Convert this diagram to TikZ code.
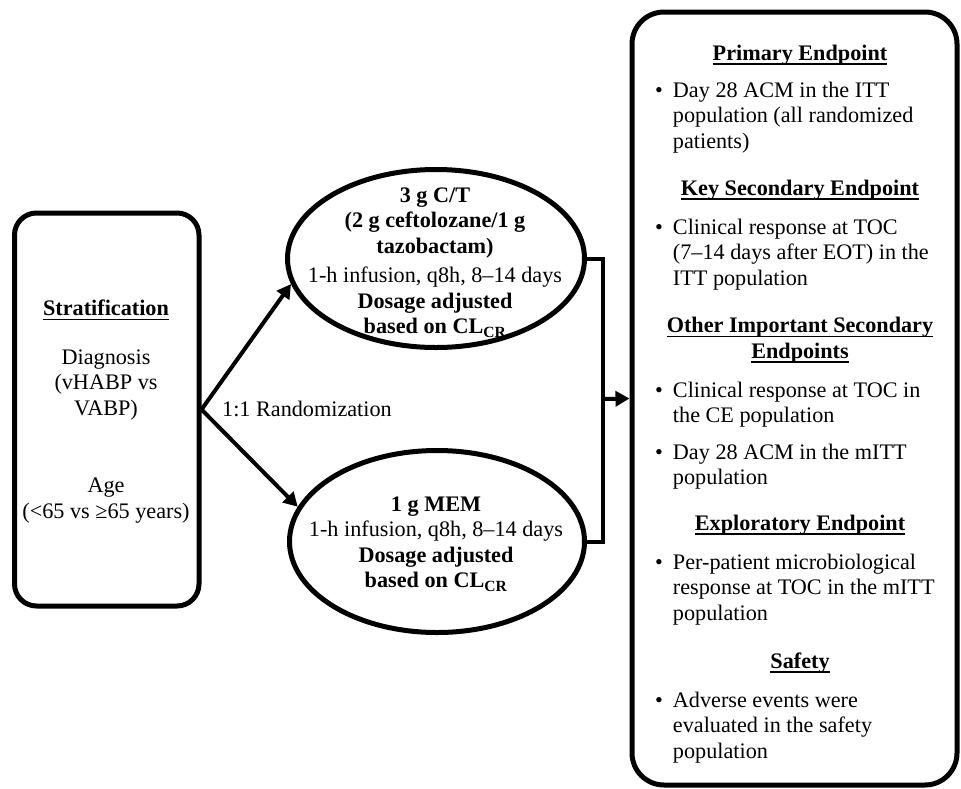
\documentclass[tikz,border=0pt]{standalone}
\usepackage{fontspec}
\setmainfont{Liberation Serif}
\usetikzlibrary{arrows.meta,shapes.geometric}
\newcommand{\hd}[1]{\leavevmode\setbox0\hbox{#1}\rlap{\vrule height -3pt depth 4.6pt width \wd0}\box0}
\newcommand{\bt}[1]{\textbullet\hspace{10pt}\begin{tabular}[t]{@{}l@{}}#1\end{tabular}}
\begin{document}
\begin{tikzpicture}[x=1pt,y=-1pt,
  every node/.style={font=\fontsize{22.2}{25.5}\selectfont, inner sep=0pt},
  box/.style={draw, line width=5pt, rounded corners=22pt},
  oval/.style={draw, ellipse, line width=5pt},
  conn/.style={line width=4pt},
  arr/.style={conn, -{Triangle[length=14pt,width=15pt]}},
  head/.style={font=\fontsize{22.2}{25.5}\selectfont\bfseries, align=center},
  txt/.style={align=center},
  bul/.style={anchor=base west}
]
\useasboundingbox (0,0) rectangle (961,788);

% boxes
\node[box, minimum width=184.5pt, minimum height=393pt] (lbox) at (106.75,409.5) {};
\node[box, rounded corners=32pt, minimum width=325pt, minimum height=773pt] (rbox) at (794.5,398.5) {};
\node[oval, minimum width=297pt, minimum height=178pt] (top) at (436,258.5) {};
\node[oval, minimum width=295pt, minimum height=182pt] (bot) at (437,541.5) {};

% left box text
\node[head] (strat) at (106,310) {\hd{Stratification}};
\node[txt] (diag) at (106,385) {Diagnosis\\(vHABP vs\\VABP)};
\node[txt] (age) at (106,500.5) {Age\\(<65 vs ≥65 years)};

% ellipse texts
\node[head] (toptxt) at (435,262.5) {3 g C/T\\(2 g ceftolozane/1 g\\tazobactam)\\[4pt]
  \normalfont 1-h infusion, q8h, 8–14 days\\
  Dosage adjusted\\based on CL\textsubscript{CR}};
\node[head] (bottxt) at (436,544) {1 g MEM\\
  \normalfont 1-h infusion, q8h, 8–14 days\\
  Dosage adjusted\\based on CL\textsubscript{CR}};

\node[anchor=west] (rand) at (222,409) {1:1 Randomization};

% connectors
\draw[arr] (lbox.east) -- (top.190);
\draw[arr] (lbox.east) -- (bot.166);
\coordinate (j) at (603,399);
\draw[conn] (top.east) -| (j) |- (bot.east);
\draw[arr] (j) -- (rbox.west);

% right box text
\node[head] (h1) at (800,55) {\hd{Primary Endpoint}};
\node[bul] (b1) at (655,97) {\bt{Day 28 ACM in the ITT\\population (all randomized\\patients)}};
\node[head] (h2) at (800,190) {\hd{Key Secondary Endpoint}};
\node[bul] (b2) at (655,234) {\bt{Clinical response at TOC\\(7–14 days after EOT) in the\\ITT population}};
\node[head] (h3) at (800,340) {\hd{Other Important Secondary}\\\hd{Endpoints}};
\node[bul] (b3) at (655,397) {\bt{Clinical response at TOC in\\the CE population}};
\node[bul] (b4) at (655,459) {\bt{Day 28 ACM in the mITT\\population}};
\node[head] (h4) at (800,525) {\hd{Exploratory Endpoint}};
\node[bul] (b5) at (655,569) {\bt{Per-patient microbiological\\response at TOC in the mITT\\population}};
\node[head] (h5) at (800,663) {\hd{Safety}};
\node[bul] (b6) at (655,707) {\bt{Adverse events were\\evaluated in the safety\\population}};
\end{tikzpicture}
\end{document}
